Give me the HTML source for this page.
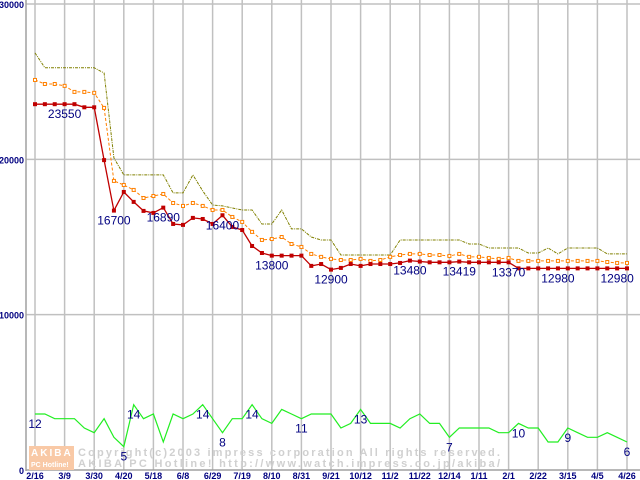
<!DOCTYPE html>
<html><head><meta charset="utf-8"><style>
html,body{margin:0;padding:0;background:#fff;width:640px;height:480px;overflow:hidden}
svg{display:block}
text{font-family:"Liberation Sans",sans-serif}
</style></head><body>
<svg id="chart" width="640" height="480" viewBox="0 0 640 480" xmlns="http://www.w3.org/2000/svg">
<g id="grid"></g>
<g id="wm">
<rect x="29" y="446" width="45" height="24" fill="#f9c9a6"/>
<text x="31" y="456" font-size="10" font-weight="bold" fill="#fff" letter-spacing="2">AKIBA</text>
<text x="31" y="467" font-size="7" font-weight="bold" fill="#fff">PC Hotline!</text>
<text x="78" y="456" font-size="11" font-weight="bold" fill="#d0d0d0" font-family="Liberation Mono,monospace" textLength="422" lengthAdjust="spacing">Copyright(c)2003 impress corporation All rights reserved.</text>
<text x="78" y="467" font-size="11" font-weight="bold" fill="#d0d0d0" font-family="Liberation Mono,monospace" textLength="422" lengthAdjust="spacing">AKIBA PC Hotline!  http://www.watch.impress.co.jp/akiba/</text>
</g>
<g id="series"></g>
</svg>
<script>
const dates=["2/16","3/9","3/30","4/20","5/18","6/8","6/29","7/19","8/10","8/31","9/21","10/12","11/2","11/22","12/14","1/11","2/1","2/22","3/15","4/5","4/26"];
const yTicks=[0,10000,20000,30000];
const minPrice=[23550,23550,23550,23550,23550,23350,23350,19950,16700,17900,17260,16680,16550,16890,15840,15780,16230,16160,15840,16400,15650,15450,14420,13970,13800,13800,13800,13800,13140,13260,12900,13010,13260,13140,13260,13260,13260,13330,13480,13420,13370,13370,13370,13419,13370,13370,13370,13370,13370,12980,12980,12980,12980,12980,12980,12980,12980,12980,12980,12980,12980];
const avgPrice=[25110,24850,24850,24730,24340,24340,24280,23310,18610,18350,18030,17510,17640,17770,17190,17000,17190,17000,16740,16740,16290,15970,15330,14810,14870,15000,14550,14360,13910,13720,13590,13520,13520,13590,13460,13520,13720,13840,13910,13910,13840,13840,13780,13910,13720,13720,13650,13590,13650,13460,13460,13460,13460,13460,13460,13460,13460,13460,13390,13330,13330];
const maxPrice=[26850,25890,25890,25890,25890,25890,25890,25560,20090,19000,19000,19000,19000,19000,17840,17840,19000,17970,17060,17000,16870,16740,16740,15840,15840,16740,15520,15520,15000,14810,14810,13840,13840,13840,13840,13840,13840,14810,14810,14810,14810,14810,14810,14810,14550,14550,14290,14290,14290,14290,13970,13970,14290,13910,14290,14290,14290,14290,13910,13910,13910];
const shopCount=[12,12,11,11,11,9,8,11,7,5,14,11,12,6,12,11,12,14,11,8,11,11,14,11,10,13,12,11,12,12,12,9,10,13,10,10,10,9,11,12,10,10,7,9,9,9,9,8,8,10,9,9,6,6,9,8,7,7,8,7,6];
const priceLabelIdx=[3,8,13,19,24,30,38,43,48,53,59];
const countLabelIdx=[0,10,9,17,19,22,27,33,42,49,54,60];

const NS="http://www.w3.org/2000/svg";
const N=minPrice.length;
function x(i){return 35+i*592/(N-1);}
function y(v){return 470-v*466/30000;}
function yc(c){return 470-c*4.665;}
function mk(tag,attrs,parent){const e=document.createElementNS(NS,tag);for(const k in attrs)e.setAttribute(k,attrs[k]);parent.appendChild(e);return e;}
const grid=document.getElementById('grid'), ser=document.getElementById('series');

yTicks.forEach(v=>{
  if(v>0){const l=mk('line',{x1:26,x2:640,y1:y(v),y2:y(v),stroke:'#c0c0c0','stroke-width':1.5},grid);
  
  }
  const t=mk('text',{x:24,y:y(v)+4,'text-anchor':'end','font-size':9,'font-weight':'bold',fill:'#000080','font-family':'Liberation Mono,monospace'},grid);
  t.textContent=String(v);
  
  
});
dates.forEach((d,k)=>{
  const xx=x(k*3);
  const l=mk('line',{x1:xx,x2:xx,y1:0,y2:470,stroke:'#c0c0c0','stroke-width':1.5},grid);
  
  
  const t=mk('text',{x:xx,y:479,'text-anchor':'middle','font-size':9,'font-weight':'bold',fill:'#000080'},grid);
  t.textContent=d;
  
  
});
const ax=mk('line',{x1:26,x2:26,y1:0,y2:471,stroke:'#a0a0a0','stroke-width':1.5},grid);


const bx=mk('line',{x1:26,x2:640,y1:470,y2:470,stroke:'#a0a0a0','stroke-width':1.5},grid);



function pts(arr,f){return arr.map((v,i)=>x(i).toFixed(1)+','+f(v).toFixed(1)).join(' ');}
const pMax=mk('polyline',{points:pts(maxPrice,y),fill:'none',stroke:'#808000','stroke-width':1,'stroke-dasharray':'3,1,1,1'},ser);


const pAvg=mk('polyline',{points:pts(avgPrice,y),fill:'none',stroke:'#ff8000','stroke-width':1,'stroke-dasharray':'3,2'},ser);


avgPrice.forEach((v,i)=>{const r=mk('rect',{x:x(i)-1.5,y:y(v)-1.5,width:3,height:3,fill:'#fff',stroke:'#ff8000','stroke-width':1},ser);
  
  });
const pMin=mk('polyline',{points:pts(minPrice,y),fill:'none',stroke:'#c00000','stroke-width':1.3},ser);


minPrice.forEach((v,i)=>{const r=mk('rect',{x:x(i)-2,y:y(v)-2,width:4,height:4,fill:'#c00000'},ser);
  
  });
const pC=mk('polyline',{points:pts(shopCount,yc),fill:'none',stroke:'#22ee22','stroke-width':1.2},ser);


priceLabelIdx.forEach(i=>{const t=mk('text',{x:x(i),y:y(minPrice[i])+14,'text-anchor':'middle','font-size':12,fill:'#000080'},ser);
  t.textContent=String(minPrice[i]);
  
  });
countLabelIdx.forEach(i=>{const t=mk('text',{x:x(i),y:yc(shopCount[i])+14,'text-anchor':'middle','font-size':12,fill:'#000080'},ser);
  t.textContent=String(shopCount[i]);
  
  });
</script>
</body></html>
